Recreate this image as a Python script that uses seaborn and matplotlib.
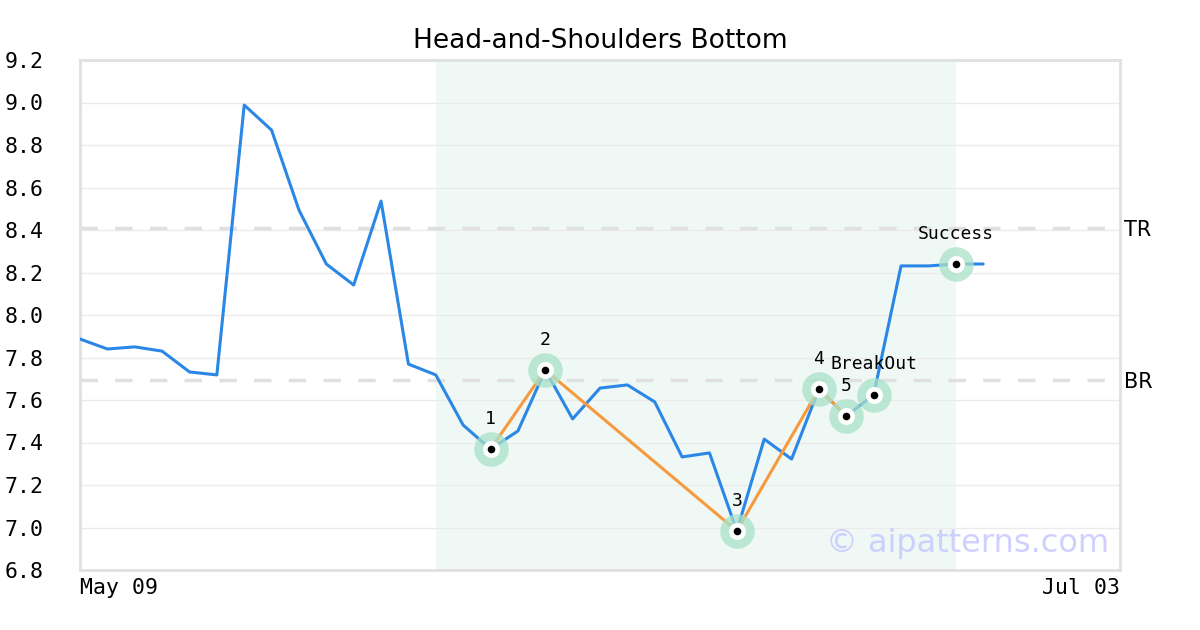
import numpy as np
import pandas as pd
import matplotlib
matplotlib.use("Agg")
import matplotlib.pyplot as plt
import seaborn as sns

# ---- data ----
prices = [7.887, 7.84, 7.85, 7.83, 7.732, 7.718, 8.988, 8.87, 8.494, 8.24,
          8.141, 8.536, 7.769, 7.718, 7.482, 7.369, 7.454, 7.741, 7.511, 7.656,
          7.671, 7.591, 7.332, 7.351, 6.984, 7.416, 7.322, 7.652, 7.525, 7.624,
          8.231, 8.231, 8.24, 8.24]
pattern_idx = [15, 17, 24, 27, 28]
pattern_labels = ["1", "2", "3", "4", "5"]
breakout_idx = 29
success_idx = 32
shade_start, shade_end = 13, 32
tr_level = 8.41
br_level = 7.694
n_slots = 38
x_tick_labels = ["May 09", "Jul 03"]
y_ticks = [6.8, 7.0, 7.2, 7.4, 7.6, 7.8, 8.0, 8.2, 8.4, 8.6, 8.8, 9.0, 9.2]

df = pd.DataFrame({"i": np.arange(len(prices)), "price": prices})
pat_df = df.iloc[pattern_idx]

sns.set_theme(style="white")
plt.rcParams["font.family"] = ["DejaVu Sans"]

fig = plt.figure(figsize=(12, 6.3), dpi=100)
ax = fig.add_axes([80 / 1200, 60 / 630, 1040 / 1200, 510 / 630])

ax.set_xlim(0, n_slots)
ax.set_ylim(6.8, 9.2)

# shaded pattern region
ax.axvspan(shade_start, shade_end, color="#eff8f4", zorder=0, lw=0)

# grid
for yv in y_ticks[1:-1]:
    ax.axhline(yv, color="#ebebeb", lw=1, zorder=0.5)

# TR / BR
for lvl, lab in [(tr_level, "TR"), (br_level, "BR")]:
    ax.axhline(lvl, color="#e0e0e0", lw=2.5, dashes=(5, 5), zorder=0.6)
    ax.text(1.004, lvl - 0.01, lab, transform=ax.get_yaxis_transform(), ha="left",
            va="center", fontsize=15, color="black", family="DejaVu Sans")

# price line
sns.lineplot(data=df, x="i", y="price", ax=ax, color="#2b87e6", lw=2.2,
             zorder=3, legend=False)
# pattern line
sns.lineplot(data=pat_df, x="i", y="price", ax=ax, color="#f79a3e", lw=2.2,
             zorder=3.5, legend=False, sort=False)

mark_idx = pattern_idx + [breakout_idx, success_idx]
mx = df["i"].iloc[mark_idx].values
my = df["price"].iloc[mark_idx].values
ax.scatter(mx, my, s=620, color="#a8e2c8", alpha=0.75, lw=0, zorder=4)
ax.scatter(mx, my, s=150, color="white", lw=0, zorder=5)
ax.scatter(mx, my, s=30, color="black", lw=0, zorder=6)

mono = "DejaVu Sans Mono"
for i, lab in zip(pattern_idx, pattern_labels):
    ax.text(i, prices[i] + 0.14, lab, ha="center", va="center", fontsize=13,
            family=mono, color="black", zorder=7)
ax.text(breakout_idx, prices[breakout_idx] + 0.145, "BreakOut", ha="center",
        va="center", fontsize=13, family=mono, color="black", zorder=7)
ax.text(success_idx, prices[success_idx] + 0.14, "Success", ha="center",
        va="center", fontsize=13, family=mono, color="black", zorder=7)

# watermark
ax.text(0.99, 0.052, "\u00a9 aipatterns.com", transform=ax.transAxes,
        ha="right", va="center", fontsize=23, color="#c8c8ff", alpha=0.85,
        family="DejaVu Sans", zorder=8)

# axes styling
for sp in ax.spines.values():
    sp.set_color("#e0e0e0")
    sp.set_linewidth(2)
ax.set_yticks(y_ticks)
ax.set_yticklabels([f"{v:.1f}" for v in y_ticks], family=mono, fontsize=15.5,
                   color="black")
ax.tick_params(axis="y", length=0, pad=54)
for t in ax.get_yticklabels():
    t.set_horizontalalignment("left")

ax.set_xticks([0, n_slots])
ax.set_xticklabels(x_tick_labels, family=mono, fontsize=15.5, color="black")
ax.tick_params(axis="x", length=0, pad=6)
xl = ax.get_xticklabels()
xl[0].set_horizontalalignment("left")
xl[1].set_horizontalalignment("right")
ax.set_xlabel("")
ax.set_ylabel("")

ax.set_title("Head-and-Shoulders Bottom", fontsize=19, color="black", pad=9,
             family="DejaVu Sans")

fig.savefig("out.png", dpi=100, facecolor="white")
